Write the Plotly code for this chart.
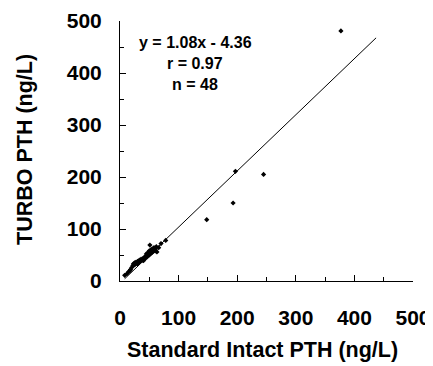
import plotly.graph_objects as go

# Data
standard_pth = [8, 12, 15, 17, 18, 20, 22, 23, 25, 25, 27, 28, 30, 30, 32, 33, 35, 36, 38, 40,
                40, 42, 43, 45, 45, 47, 48, 50, 50, 51, 52, 53, 55, 55, 57, 58, 60, 60, 62, 63,
                66, 70, 78, 148, 193, 197, 245, 377]
turbo_pth = [11, 14, 18, 20, 22, 26, 30, 33, 35, 31, 36, 34, 38, 33, 36, 40, 38, 42, 40, 44,
             39, 46, 43, 48, 52, 47, 55, 50, 58, 69, 52, 60, 55, 62, 57, 64, 58, 61, 66, 56,
             64, 72, 78, 118, 150, 211, 205, 481]

slope = 1.08
intercept = -4.36
line_x = [8, 437]
line_y = [slope * v + intercept for v in line_x]

tick_vals = [0, 100, 200, 300, 400, 500]
stats_text = ["y = 1.08x - 4.36", "r = 0.97", "n = 48"]

FONT = "Arial, 'Liberation Sans', sans-serif"

fig = go.Figure()
fig.add_trace(go.Scatter(x=line_x, y=line_y, mode="lines",
                         line=dict(color="black", width=1), showlegend=False))
fig.add_trace(go.Scatter(x=standard_pth, y=turbo_pth, mode="markers",
                         marker=dict(symbol="diamond", size=4, color="black"),
                         showlegend=False))

axis_common = dict(
    range=[0, 500], tickvals=tick_vals, ticks="inside", ticklen=6, tickcolor="black",
    tickwidth=1, showline=True, linecolor="black", linewidth=1, showgrid=False,
    zeroline=False, automargin=False,
    tickfont=dict(family=FONT, size=21, color="black", weight="bold"),
    minor=dict(dtick=50, ticks="inside", ticklen=4, tickcolor="black", showgrid=False),
)

# page body has an 8px default margin, so the figure is shrunk by 8px and offsets reduced
fig.update_layout(
    width=425, height=358,
    margin=dict(l=112, r=20, t=13, b=85),
    plot_bgcolor="white", paper_bgcolor="white",
    xaxis=dict(**axis_common, ticklabelstandoff=18),
    yaxis=dict(**axis_common, ticklabelstandoff=13),
    font=dict(family=FONT, color="black"),
)

fig.add_annotation(text="Standard Intact PTH (ng/L)", xref="paper", yref="paper",
                   x=(262 - 120) / 293, y=(281 - 350) / 260, showarrow=False,
                   font=dict(family=FONT, size=21.5, color="black", weight="bold"),
                   xanchor="center", yanchor="middle")
fig.add_annotation(text="TURBO PTH (ng/L)", xref="paper", yref="paper",
                   x=(25 - 120) / 293, y=(281 - 150) / 260, showarrow=False, textangle=-90,
                   font=dict(family=FONT, size=21.5, color="black", weight="bold"),
                   xanchor="center", yanchor="middle")

for txt, yv in zip(stats_text, [459, 419, 377]):
    fig.add_annotation(text=txt, x=128, y=yv, xref="x", yref="y", showarrow=False,
                       font=dict(family=FONT, size=16, color="black", weight="bold"),
                       xanchor="center", yanchor="middle")

fig.write_html("out.html")
